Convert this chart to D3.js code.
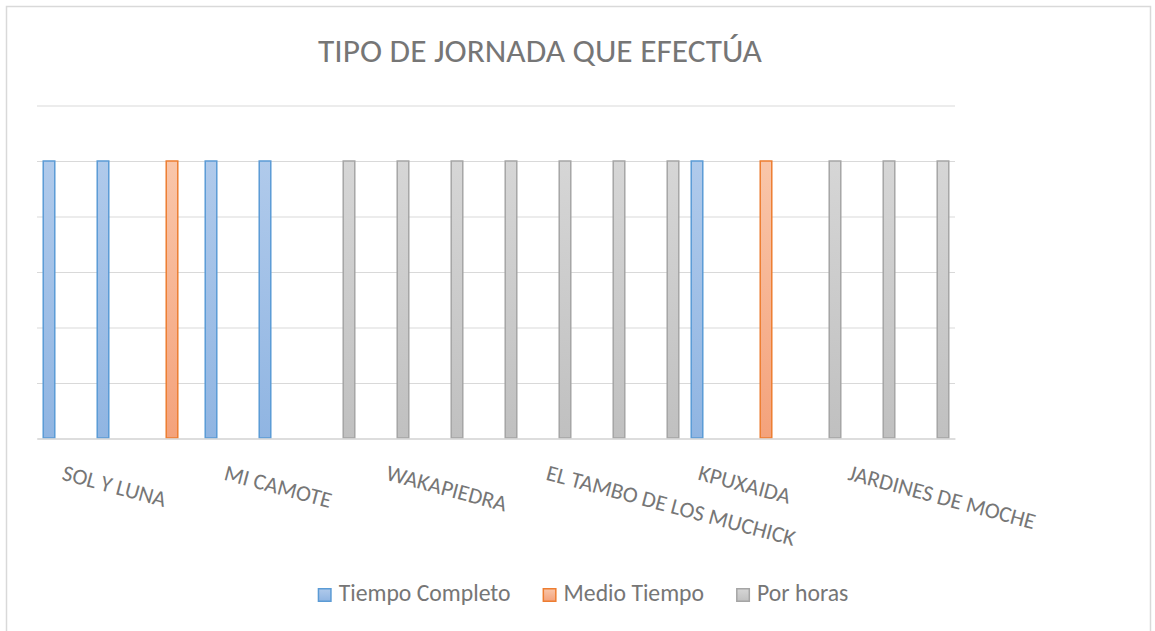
<!DOCTYPE html>
<html>
<head>
<meta charset="utf-8">
<script src="https://cdn.jsdelivr.net/npm/d3@7"></script>
<style>
    body { margin: 0; background: #fff; }
    text { font-family: Carlito, Calibri, Lato, sans-serif; fill: #767676; }
</style>
</head>
<body>
<svg id="chart" width="1155" height="631"></svg>
<script>
// Category labels (Excel only shows every third one, the others are not readable)
var categoryLabels = ["SOL Y LUNA", "", "", "MI CAMOTE", "", "", "WAKAPIEDRA", "", "",
    "EL TAMBO DE LOS MUCHICK", "", "", "KPUXAIDA", "", "", "JARDINES DE MOCHE", ""];
var shownTicks = [0, 3, 6, 9, 12, 15];

var seriesNames = ["Tiempo Completo", "Medio Tiempo", "Por horas"];
var tiempoCompleto = [1, 1, 0, 1, 1, 0, 0, 0, 0, 0, 0, 0, 1, 0, 0, 0, 0];
var medioTiempo    = [0, 0, 1, 0, 0, 0, 0, 0, 0, 0, 0, 0, 0, 1, 0, 0, 0];
var porHoras       = [0, 0, 0, 0, 0, 1, 1, 1, 1, 1, 1, 1, 0, 0, 1, 1, 1];
var yTicks = [0, 0.2, 0.4, 0.6, 0.8, 1, 1.2];

var seriesValues = [tiempoCompleto, medioTiempo, porHoras];
var seriesColors = [
    {top: '#b0caeb', bottom: '#90b5e2', stroke: '#5b9bd5'},
    {top: '#f9c6aa', bottom: '#f4a27b', stroke: '#ed7d31'},
    {top: '#d6d6d6', bottom: '#c0c0c0', stroke: '#a5a5a5'}
];
// Excel nudges the last labels a bit to the left
var labelShift = [0, 0, 0, -2, -12, -24];

var svg = d3.select('#chart');

// chart frame
svg.append('rect')
    .attr('x', 6.5).attr('y', 6.5)
    .attr('width', 1144).attr('height', 640)
    .attr('fill', '#fff')
    .attr('stroke', '#d9d9d9')
    .attr('stroke-width', 1.5);

var plot = {l: 37, r: 955, t: 105.5, b: 438.5};

var x0 = d3.scaleBand()
    .domain(d3.range(categoryLabels.length))
    .range([plot.l, plot.r]);

var x1 = d3.scaleBand()
    .domain(d3.range(seriesNames.length))
    .range([4.5, x0.bandwidth() - 4.5])
    .paddingInner(0.13)
    .paddingOuter(0.065);

var yScale = d3.scaleLinear()
    .domain([0, 1.2])
    .range([plot.b, plot.t]);

// gradients
var defs = svg.append('defs');
seriesColors.forEach(function(c, i) {
    var g = defs.append('linearGradient')
        .attr('id', 'grad' + i)
        .attr('x1', 0).attr('y1', 0).attr('x2', 0).attr('y2', 1);
    g.append('stop').attr('offset', '0%').attr('stop-color', c.top);
    g.append('stop').attr('offset', '100%').attr('stop-color', c.bottom);
});

// gridlines
svg.append('g')
    .attr('transform', 'translate(' + plot.l + ',0)')
    .call(d3.axisLeft(yScale).tickValues(yTicks).tickSize(-(plot.r - plot.l)).tickFormat(''))
    .call(function(g) {
        g.select('.domain').remove();
        g.selectAll('.tick line').attr('stroke', '#d9d9d9').attr('stroke-width', 1.2);
    });

// bars
var barData = [];
categoryLabels.forEach(function(label, i) {
    seriesValues.forEach(function(vals, s) {
        if (vals[i] > 0) barData.push({cat: i, series: s, value: vals[i]});
    });
});

svg.append('g').selectAll('rect')
    .data(barData)
    .enter()
    .append('rect')
    .attr('x', function(d) { return x0(d.cat) + x1(d.series) + 0.75; })
    .attr('y', function(d) { return yScale(d.value); })
    .attr('width', x1.bandwidth() - 1.5)
    .attr('height', function(d) { return plot.b - yScale(d.value) - 0.5; })
    .attr('fill', function(d) { return 'url(#grad' + d.series + ')'; })
    .attr('stroke', function(d) { return seriesColors[d.series].stroke; })
    .attr('stroke-width', 1.5);

// x axis
var xAxisG = svg.append('g')
    .attr('transform', 'translate(0,' + plot.b + ')')
    .call(d3.axisBottom(x0).tickValues(shownTicks).tickSize(0)
        .tickFormat(function(i) { return categoryLabels[i]; }));

xAxisG.select('.domain')
    .attr('stroke', '#d9d9d9')
    .attr('stroke-width', 1.5);

var labels = xAxisG.selectAll('.tick text')
    .attr('y', 0)
    .attr('dy', 0)
    .attr('fill', null)
    .attr('text-anchor', 'start')
    .style('font-size', '20px')
    .style('font-family', null)
    .attr('transform', function(d, i) {
        return 'translate(' + (labelShift[i] - 3) + ',41) rotate(15)';
    });

// fit label size so the long label has the same length as in Excel
var longest = labels.filter(function(d) { return d === 9; });
var labelSize = 20 * 257 / longest.node().getComputedTextLength();
labels.style('font-size', labelSize + 'px');

// title
var title = svg.append('text')
    .attr('x', 540)
    .attr('y', 62)
    .attr('text-anchor', 'middle')
    .style('font-size', '36px')
    .text('TIPO DE JORNADA QUE EFECTÚA');
var titleSize = 36 * 444 / title.node().getComputedTextLength();
title.style('font-size', titleSize + 'px');

// legend
var legendG = svg.append('g');
var probe = legendG.append('text').style('font-size', '20px').text(seriesNames[0]);
var legendSize = 20 * 172 / probe.node().getComputedTextLength();
probe.remove();

var cursor = 0;
seriesNames.forEach(function(name, i) {
    var item = legendG.append('g').attr('transform', 'translate(' + cursor + ',0)');
    item.append('rect')
        .attr('x', 0.75).attr('y', 588.75)
        .attr('width', 12.5).attr('height', 12.5)
        .attr('fill', 'url(#grad' + i + ')')
        .attr('stroke', seriesColors[i].stroke)
        .attr('stroke-width', 1.5);
    var t = item.append('text')
        .attr('x', 21)
        .attr('y', 601)
        .style('font-size', legendSize + 'px')
        .text(name);
    cursor += 21 + t.node().getComputedTextLength() + 32;
});
var legendWidth = cursor - 32;
legendG.attr('transform', 'translate(' + (583 - legendWidth / 2) + ',0)');
</script>
</body>
</html>
